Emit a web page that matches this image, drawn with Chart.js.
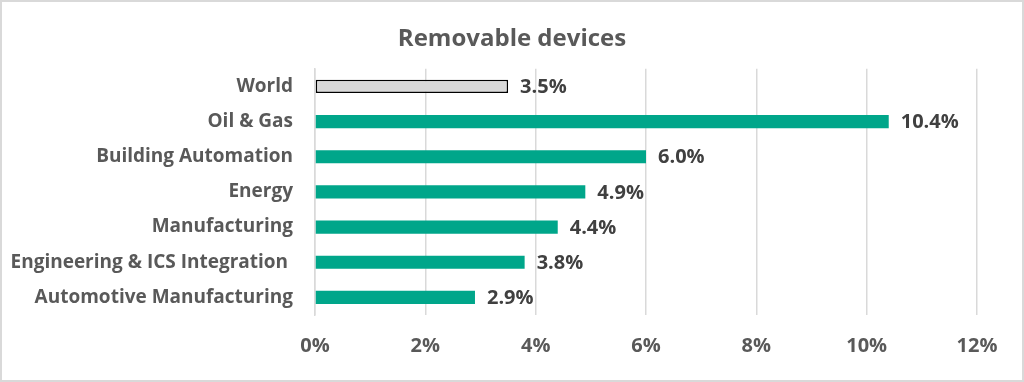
<!DOCTYPE html>
<html>
<head>
<meta charset="utf-8">
<script src="https://cdn.jsdelivr.net/npm/chart.js@4"></script>
<style>
  html, body { margin: 0; padding: 0; background: #fff; }
  #wrap { width: 1024px; height: 382px; box-sizing: border-box; border: 2px solid #d9d9d9; background: #fff; }
  canvas { display: block; }
</style>
</head>
<body>
<div id="wrap"><canvas id="c" width="1020" height="378"></canvas></div>
<script>
const categories = ["World", "Oil & Gas", "Building Automation", "Energy", "Manufacturing", "Engineering & ICS Integration ", "Automotive Manufacturing"];
const values = [3.5, 10.4, 6.0, 4.9, 4.4, 3.8, 2.9];
const tickValues = [0, 2, 4, 6, 8, 10, 12];
const titleText = "Removable devices";

const FONT = "'Open Sans', Lato, sans-serif";
const barColors = values.map((v, i) => i === 0 ? "#d9d9d9" : "#00a68a");
const borderColors = values.map((v, i) => i === 0 ? "#000000" : "#00a68a");
const borderWidths = values.map((v, i) => i === 0 ? 1.5 : 0);

const valueLabels = {
  id: "valueLabels",
  afterDatasetsDraw(chart) {
    const ctx = chart.ctx;
    const meta = chart.getDatasetMeta(0);
    ctx.save();
    ctx.font = "bold 20px " + FONT;
    ctx.fillStyle = "#404040";
    ctx.textAlign = "left";
    ctx.textBaseline = "middle";
    meta.data.forEach((bar, i) => {
      ctx.fillText(values[i].toFixed(1) + "%", bar.x + 12, bar.y + 1);
    });
    ctx.restore();
  }
};

// center the title across the full canvas width
const centerTitle = {
  id: "centerTitle",
  afterLayout(chart) {
    const t = chart.titleBlock;
    if (t) { t.left = 0; t.right = chart.width; t.width = chart.width; }
  }
};

new Chart(document.getElementById("c"), {
  type: "bar",
  data: {
    labels: categories,
    datasets: [{
      data: values,
      backgroundColor: barColors,
      borderColor: borderColors,
      borderWidth: borderWidths,
      borderSkipped: false,
      barPercentage: 0.75,
      categoryPercentage: 0.5
    }]
  },
  options: {
    indexAxis: "y",
    responsive: false,
    animation: false,
    layout: { padding: { left: 0, right: 45, top: 0, bottom: 3 } },
    plugins: {
      legend: { display: false },
      tooltip: { enabled: false },
      title: {
        display: true,
        text: titleText,
        color: "#595959",
        font: { family: FONT, size: 24, weight: "bold" },
        padding: { top: 23, bottom: 15 }
      }
    },
    scales: {
      x: {
        min: 0,
        max: 12,
        afterBuildTicks(scale) { scale.ticks = tickValues.map(v => ({ value: v })); },
        ticks: {
          color: "#595959",
          font: { family: FONT, size: 20, weight: "bold" },
          padding: 19,
          callback: v => v + "%"
        },
        grid: { color: "#d9d9d9", lineWidth: 1.5, drawTicks: false },
        border: { display: false }
      },
      y: {
        afterFit(scale) { scale.width = 313; },
        ticks: {
          color: "#595959",
          font: { family: FONT, size: 19, weight: "bold" },
          padding: 22
        },
        grid: { display: false, drawTicks: false },
        border: { display: true, color: "#d9d9d9", width: 1.5 }
      }
    }
  },
  plugins: [valueLabels, centerTitle]
});
</script>
</body>
</html>
